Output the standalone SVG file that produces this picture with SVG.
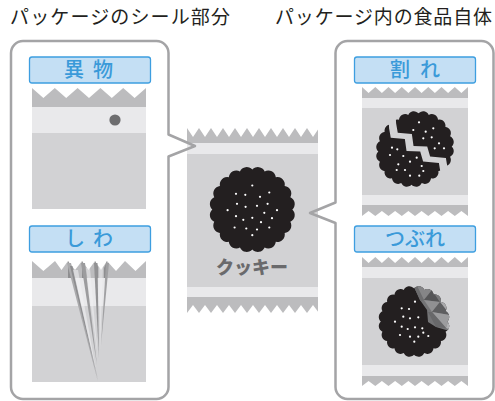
<svg xmlns="http://www.w3.org/2000/svg" xmlns:xlink="http://www.w3.org/1999/xlink" width="495" height="401" viewBox="0 0 495 401">
  <style>
    .title { font-family: "Noto Sans CJK JP", "Noto Sans", sans-serif; font-size: 19px; fill: #231f20; }
    .panel { fill: none; stroke: #a4a4a6; stroke-width: 2.5; stroke-linejoin: round; }
    .tag { fill: #c4dff4; stroke: #3d9ee0; stroke-width: 1.3; }
    .tagtxt { font-family: "Noto Sans CJK JP", "Noto Sans", sans-serif; font-size: 20px; font-weight: 500; fill: #3a9ad9; text-anchor: middle; }
    .band { fill: #bcbcbe; }
    .light { fill: #e9e9eb; }
    .body { fill: #d2d2d4; }
    .cut { fill: #ffffff; }
    .cookie { fill: #231f20; }
    .dot { fill: #ffffff; }
  </style>
  <defs>
    <!-- scalloped biscuit outline, centred on the origin -->
    <path id="ck" d="M40,0 A7.5,7.5 0 0 1 38.04,12.36 A7.5,7.5 0 0 1 32.36,23.51 A7.5,7.5 0 0 1 23.51,32.36 A7.5,7.5 0 0 1 12.36,38.04 A7.5,7.5 0 0 1 0,40 A7.5,7.5 0 0 1 -12.36,38.04 A7.5,7.5 0 0 1 -23.51,32.36 A7.5,7.5 0 0 1 -32.36,23.51 A7.5,7.5 0 0 1 -38.04,12.36 A7.5,7.5 0 0 1 -40,0 A7.5,7.5 0 0 1 -38.04,-12.36 A7.5,7.5 0 0 1 -32.36,-23.51 A7.5,7.5 0 0 1 -23.51,-32.36 A7.5,7.5 0 0 1 -12.36,-38.04 A7.5,7.5 0 0 1 0,-40 A7.5,7.5 0 0 1 12.36,-38.04 A7.5,7.5 0 0 1 23.51,-32.36 A7.5,7.5 0 0 1 32.36,-23.51 A7.5,7.5 0 0 1 38.04,-12.36 A7.5,7.5 0 0 1 40,0 Z"/>
    <!-- the two halves of the broken biscuit -->
    <clipPath id="crackUpper">
      <polygon points="-29,-70 -27,-28 -25,-16.5 -8,-15 -6,-0.5 10.5,0 14,12 33,14 35,26 38,70 70,70 70,-70"/>
    </clipPath>
    <clipPath id="crackLower">
      <polygon points="-29,-70 -27,-28 -25,-16.5 -8,-15 -6,-0.5 10.5,0 14,12 33,14 35,26 38,70 -70,70 -70,-70"/>
    </clipPath>
    <!-- crushed part of the squashed biscuit -->
    <clipPath id="ckClip">
      <use xlink:href="#ck"/>
    </clipPath>
    <clipPath id="crushZone">
      <polygon points="0,-60 0,-41.6 7.2,-25.9 15.7,-13.9 16.9,0.6 26.5,6.6 38.6,10.2 60,12 60,-60"/>
    </clipPath>
  </defs>

  <!-- headings -->
  <text class="title" x="10" y="24" textLength="220" lengthAdjust="spacing">パッケージのシール部分</text>
  <text class="title" x="275" y="24" textLength="217" lengthAdjust="spacing">パッケージ内の食品自体</text>

  <!-- centre: the wrapped cookie -->
  <g id="package-center">
    <rect class="band" x="187" y="128" width="131" height="15"/>
    <path class="cut" d="M187,128 L193,137 L199,128 L205,137 L211,128 L217,137 L223,128 L229,137 L235,128 L241,137 L247,128 L253,137 L259,128 L265,137 L271,128 L277,137 L283,128 L289,137 L295,128 L301,137 L307,128 L313,137 L319,128 Z"/>
    <rect class="light" x="187" y="143" width="131" height="11"/>
    <rect class="body" x="187" y="154" width="131" height="133"/>
    <rect class="light" x="187" y="287" width="131" height="10"/>
    <rect class="band" x="187" y="297" width="131" height="16"/>
    <path class="cut" d="M187,313 L193,305 L199,313 L205,305 L211,313 L217,305 L223,313 L229,305 L235,313 L241,305 L247,313 L253,305 L259,313 L265,305 L271,313 L277,305 L283,313 L289,305 L295,313 L301,305 L307,313 L313,305 L319,313 Z"/>
    <use xlink:href="#ck" class="cookie" transform="translate(252.3,209.5)"/>
    <g class="dot" transform="translate(252.3,209.5)">
      <circle cx="0" cy="-24" r="1.1"/><circle cx="-16.3" cy="-15.7" r="1.1"/><circle cx="-7" cy="-14.7" r="1.1"/>
      <circle cx="17" cy="-17" r="1.1"/><circle cx="7.7" cy="-12.7" r="1.1"/><circle cx="-15.3" cy="-5.7" r="1.1"/>
      <circle cx="-6.7" cy="-2.7" r="1.1"/><circle cx="4.7" cy="-3.7" r="1.1"/><circle cx="15.3" cy="-5.7" r="1.1"/>
      <circle cx="-24.7" cy="0.7" r="1.1"/><circle cx="24.7" cy="0.7" r="1.1"/><circle cx="-16.3" cy="6.7" r="1.1"/>
      <circle cx="0" cy="8.3" r="1.1"/><circle cx="12" cy="3.3" r="1.1"/><circle cx="-9" cy="10.3" r="1.1"/>
      <circle cx="8.7" cy="12.7" r="1.1"/><circle cx="19.7" cy="8.7" r="1.1"/><circle cx="-17.7" cy="18" r="1.1"/>
      <circle cx="-6" cy="19" r="1.1"/><circle cx="4.7" cy="20" r="1.1"/><circle cx="17" cy="18" r="1.1"/>
      <circle cx="0" cy="25.7" r="1.1"/>
    </g>
    <text x="252" y="274" text-anchor="middle" font-family="'Noto Sans CJK JP', 'Noto Sans', sans-serif" font-size="18" font-weight="900" fill="#6a6a6c">クッキー</text>
  </g>

  <!-- left: faults in the seal -->
  <g id="panel-seal">
    <path class="panel" d="M23,41 H156.5 A12,12 0 0 1 168.5,53 V134.5 L195,146 L168.5,156.5 V387 A12,12 0 0 1 156.5,399 H23 A12,12 0 0 1 11,387 V53 A12,12 0 0 1 23,41 Z"/>
  </g>

  <g id="foreign-matter">
    <rect class="tag" x="29.5" y="57" width="121" height="26" rx="2.5"/>
    <text class="tagtxt" x="74 88.5 103" y="77">異 物</text>
    <rect class="band" x="32" y="88" width="114" height="19"/>
    <path class="cut" d="M32,88 L43.4,98 L54.8,88 L66.2,98 L77.6,88 L89,98 L100.4,88 L111.8,98 L123.2,88 L134.6,98 L146,88 Z"/>
    <rect class="light" x="32" y="107" width="114" height="26"/>
    <rect class="body" x="32" y="133" width="114" height="76"/>
    <circle cx="115" cy="120" r="5.6" fill="#6d6d6f"/>
  </g>

  <g id="wrinkle">
    <rect class="tag" x="29.5" y="226" width="121" height="26" rx="2.5"/>
    <text class="tagtxt" x="75 89 103" y="246">し わ</text>
    <rect class="band" x="32" y="261" width="114" height="17"/>
    <path class="cut" d="M32,261 L43.4,271 L55,261 L61.5,270 L68,261 L75,270 L82,261 L88.5,270 L95,261 L101,270 L107,261 L116,271 L125,261 L135.5,271 L146,261 Z"/>
    <rect class="light" x="32" y="278" width="114" height="28"/>
    <rect class="body" x="32" y="306" width="114" height="76"/>
    <!-- folds gathered in the seal -->
    <g>
      <polygon points="68,261 71,267 71,278 68,278" fill="#8e8e90"/>
      <polygon points="82,261 85,267 85,278 82,278" fill="#8e8e90"/>
      <polygon points="95,261 98,267 98,278 95,278" fill="#8e8e90"/>
      <polygon points="107,261 104,268 104,278 107,278" fill="#8e8e90"/>
      <polygon points="67,263 71,263 98,382" fill="#aaaaac"/>
      <polygon points="70,266 72.5,266 98,380" fill="#858587" opacity="0.8"/>
      <polygon points="73,270 78,270 96,370" fill="#f2f2f4" opacity="0.55"/>
      <polygon points="81,263 85,263 97,365" fill="#9c9c9e"/>
      <polygon points="86,268 90,268 98,358" fill="#f2f2f4" opacity="0.5"/>
      <polygon points="94,263 97.5,263 99,358" fill="#929294"/>
      <polygon points="106,263 109,263 101,345" fill="#a0a0a2"/>
      <polygon points="99,268 103,268 100,350" fill="#f2f2f4" opacity="0.5"/>
    </g>
  </g>

  <!-- right: damage to the food itself -->
  <g id="panel-food">
    <path class="panel" d="M347.5,41 H481.5 A12,12 0 0 1 493.5,53 V387 A12,12 0 0 1 481.5,399 H347.5 A12,12 0 0 1 335.5,387 V223 L310,213 L335.5,202.5 V53 A12,12 0 0 1 347.5,41 Z"/>
  </g>

  <g id="broken">
    <rect class="tag" x="354.5" y="57" width="121" height="26" rx="2.5"/>
    <text class="tagtxt" x="400 415 430" y="77">割 れ</text>
    <rect class="band" x="362" y="87" width="106" height="11"/>
    <path class="cut" d="M362,87 L368.6,93 L375.3,87 L381.9,93 L388.5,87 L395.1,93 L401.8,87 L408.4,93 L415,87 L421.6,93 L428.3,87 L434.9,93 L441.5,87 L448.1,93 L454.8,87 L461.4,93 L468,87 Z"/>
    <rect class="light" x="362" y="98" width="106" height="10"/>
    <rect class="body" x="362" y="108" width="106" height="87"/>
    <rect class="light" x="362" y="195" width="106" height="10"/>
    <rect class="band" x="362" y="205" width="106" height="11"/>
    <path class="cut" d="M362,216 L368.6,211 L375.3,216 L381.9,211 L388.5,216 L395.1,211 L401.8,216 L408.4,211 L415,216 L421.6,211 L428.3,216 L434.9,211 L441.5,216 L448.1,211 L454.8,216 L461.4,211 L468,216 Z"/>
    <g transform="translate(411.5,151.5) scale(0.83)">
      <use xlink:href="#ck" class="cookie" clip-path="url(#crackLower)"/>
    </g>
    <g transform="translate(418.5,146.5) scale(0.83)">
      <use xlink:href="#ck" class="cookie" clip-path="url(#crackUpper)"/>
    </g>
    <g class="dot">
      <circle cx="419" cy="122.3" r="1.1"/><circle cx="413.3" cy="130" r="1.1"/><circle cx="425.7" cy="131.7" r="1.1"/>
      <circle cx="433.3" cy="128.3" r="1.1"/><circle cx="423.3" cy="138.3" r="1.1"/><circle cx="431.7" cy="137.3" r="1.1"/>
      <circle cx="439" cy="143.3" r="1.1"/><circle cx="434.7" cy="148.3" r="1.1"/><circle cx="444" cy="148.3" r="1.1"/>
      <circle cx="392" cy="147.7" r="1.1"/><circle cx="397.3" cy="149.3" r="1.1"/><circle cx="390" cy="155" r="1.1"/>
      <circle cx="403.3" cy="156" r="1.1"/><circle cx="410" cy="161.7" r="1.1"/><circle cx="416.7" cy="157.7" r="1.1"/>
      <circle cx="398.3" cy="164.3" r="1.1"/><circle cx="405" cy="170" r="1.1"/><circle cx="421.7" cy="166" r="1.1"/>
      <circle cx="396.7" cy="170" r="1.1"/><circle cx="410" cy="175.7" r="1.1"/><circle cx="419.3" cy="175.7" r="1.1"/>
      <circle cx="423.3" cy="171" r="1.1"/>
    </g>
  </g>

  <g id="crushed">
    <rect class="tag" x="354.5" y="226" width="121" height="26" rx="2.5"/>
    <text class="tagtxt" x="395 415 435" y="246">つぶれ</text>
    <rect class="band" x="362" y="257" width="106" height="10"/>
    <path class="cut" d="M362,257 L368.6,263 L375.3,257 L381.9,263 L388.5,257 L395.1,263 L401.8,257 L408.4,263 L415,257 L421.6,263 L428.3,257 L434.9,263 L441.5,257 L448.1,263 L454.8,257 L461.4,263 L468,257 Z"/>
    <rect class="light" x="362" y="267" width="106" height="11"/>
    <rect class="body" x="362" y="278" width="106" height="87"/>
    <rect class="light" x="362" y="365" width="106" height="11"/>
    <rect class="band" x="362" y="376" width="106" height="10"/>
    <path class="cut" d="M362,386 L368.6,381 L375.3,386 L381.9,381 L388.5,386 L395.1,381 L401.8,386 L408.4,381 L415,386 L421.6,381 L428.3,386 L434.9,381 L441.5,386 L448.1,381 L454.8,386 L461.4,381 L468,386 Z"/>
    <g transform="translate(414,321.5) scale(0.83)">
      <use xlink:href="#ck" class="cookie"/>
      <g clip-path="url(#crushZone)">
        <g clip-path="url(#ckClip)">
          <rect x="-5" y="-50" width="60" height="65" fill="#747476"/>
          <polygon points="0,-50 21.7,-38 12,-25.9" fill="#858587"/>
          <polygon points="0,-50 12,-25.9 -2,-20" fill="#6c6c6e"/>
          <polygon points="21.7,-38 31.3,-23.5 12,-25.9" fill="#555557"/>
          <polygon points="21.7,-38 30,-50 43.4,-25.9 31.3,-23.5" fill="#7a7a7c"/>
          <polygon points="31.3,-23.5 43.4,-25.9 43.4,-7.8" fill="#a9a9ab"/>
          <polygon points="43.4,-25.9 55,-20 43.4,-7.8" fill="#8a8a8c"/>
          <polygon points="12,-25.9 31.3,-23.5 21.7,-11.4" fill="#909092"/>
          <polygon points="31.3,-23.5 43.4,-7.8 21.7,-11.4" fill="#5e5e60"/>
          <polygon points="21.7,-11.4 43.4,-7.8 38.6,7.8" fill="#9c9c9e"/>
          <polygon points="16.9,-11.4 21.7,-11.4 38.6,7.8 26.5,6.6" fill="#68686a"/>
          <polygon points="43.4,-7.8 55,-10 55,15 38.6,7.8" fill="#b0b0b2"/>
        </g>
      </g>
    </g>
    <g class="dot">
      <circle cx="401.7" cy="308.3" r="1.1"/><circle cx="409" cy="309" r="1.1"/><circle cx="415" cy="301.7" r="1.1"/>
      <circle cx="403.3" cy="316.7" r="1.1"/><circle cx="410" cy="318.3" r="1.1"/><circle cx="418.3" cy="317.3" r="1.1"/>
      <circle cx="395" cy="321.7" r="1.1"/><circle cx="401.7" cy="326.7" r="1.1"/><circle cx="407.7" cy="329" r="1.1"/>
      <circle cx="415" cy="327.3" r="1.1"/><circle cx="422.3" cy="328.3" r="1.1"/><circle cx="400" cy="335" r="1.1"/>
      <circle cx="410" cy="336.7" r="1.1"/><circle cx="418.3" cy="336.7" r="1.1"/><circle cx="428.3" cy="336" r="1.1"/>
      <circle cx="414.3" cy="341.7" r="1.1"/><circle cx="423.3" cy="332.7" r="1.1"/>
    </g>
  </g>
</svg>
